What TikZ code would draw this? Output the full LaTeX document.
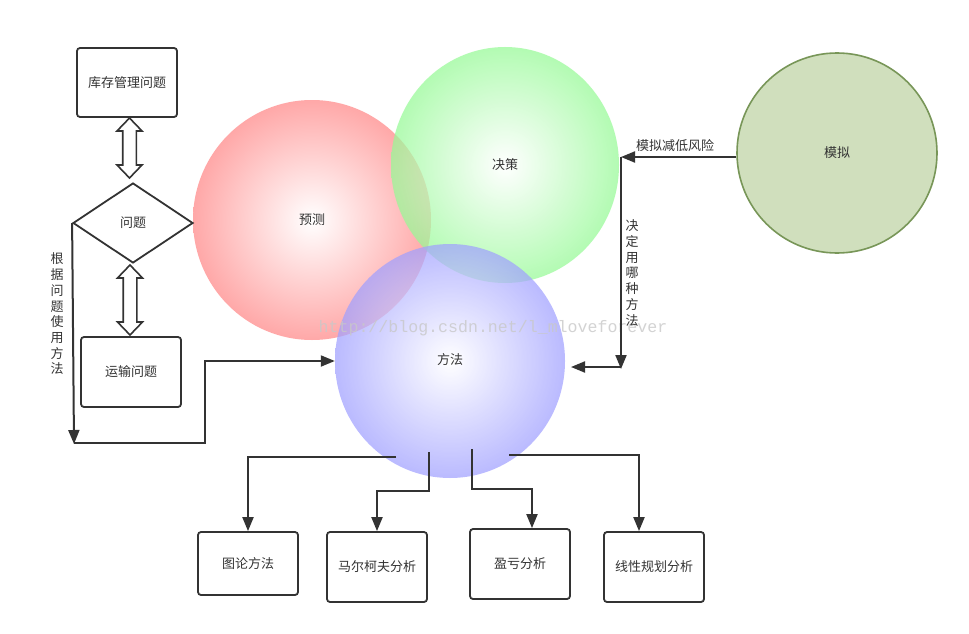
\documentclass[tikz,border=0pt]{standalone}
\usepackage{fontspec}
\setmainfont{Noto Sans CJK SC}
\newfontfamily\wmfont{Liberation Mono}
\usetikzlibrary{arrows.meta,shapes.geometric,calc}
\definecolor{txt}{HTML}{333333}
\definecolor{redc}{RGB}{255,168,168}
\definecolor{greenc}{RGB}{150,250,150}
\definecolor{bluec}{RGB}{160,160,255}
\definecolor{monifill}{RGB}{208,223,189}
\definecolor{monidraw}{RGB}{120,150,88}
\definecolor{wm}{RGB}{200,200,200}
\newcommand\dblarrow[3]{%
  \draw[line width=1.6pt, draw=txt, fill=white]
    (#1-6.8,#2+13) -- (#1-12.5,#2+13) -- (#1,#2) -- (#1+12.5,#2+13) -- (#1+6.8,#2+13)
    -- (#1+6.8,#3-13) -- (#1+12.5,#3-13) -- (#1,#3) -- (#1-12.5,#3-13) -- (#1-6.8,#3-13) -- cycle;}
\begin{document}
\begin{tikzpicture}[x=1pt,y=-1pt,
  every node/.style={text=txt, font=\fontsize{13}{15.7}\selectfont},
  box/.style={draw=txt, line width=1.8pt, rounded corners=3pt, minimum width=100pt,
              minimum height=70pt, inner sep=0pt, fill=white},
  conn/.style={draw=txt, line width=2pt},
  tip/.style={-{Triangle[length=14pt,width=11pt]}},
  blob/.style={ellipse, inner sep=0pt, shade, inner color=white}]
\useasboundingbox[fill=white] (0,0) rectangle (969,634);

% circles
\node[blob, outer color=redc, minimum width=238pt, minimum height=240pt] (yuce) at (312,220) {预测};
\node[blob, outer color=greenc, fill opacity=0.72, text opacity=1, minimum width=228pt, minimum height=236pt] (juece) at (505,165) {决策};
\node[blob, outer color=bluec, fill opacity=0.72, text opacity=1, minimum width=230pt, minimum height=234pt] (fangfa) at (450,361) {};
\node at (450,360) {方法};

% watermark
\node[text=wm, text opacity=0.8, font=\wmfont\fontsize{16.6}{18}\selectfont, inner sep=0pt] (wmark) at (493,328) {http://blog.csdn.net/l\_mloveforever};

% left column
\node[box, minimum height=69pt] (kucun) at (127,82.5) {库存管理问题};
\node[diamond, draw=txt, line width=1.8pt, fill=white, minimum width=120pt, minimum height=80pt, inner sep=0pt, aspect=1.5] (wenti) at (133,223) {问题};
\node[box] (yunshu) at (131,372) {运输问题};
\dblarrow{129.5}{118}{178}
\dblarrow{130}{265}{335}

\coordinate (lb) at (74,444);
\draw[conn, tip] (wenti.west) -- (lb);
\draw[conn, tip] (74,443) -| (205,361) -- (fangfa.west);
\node[align=center, text width=14pt, inner sep=0pt] (lab1) at (57,314) {根\\据\\问\\题\\使\\用\\方\\法};

% right side
\node[ellipse, draw=monidraw, line width=1.6pt, fill=monifill, minimum width=200pt, minimum height=200pt, inner sep=0pt] (moni) at (837,153) {模拟};
\coordinate (rc) at (621,157);
\coordinate (rb) at (621,369);
\coordinate (rl) at (571,367);
\draw[conn, tip] ($(moni.west)+(0,4)$) -- (rc);
\node (lab2) at (675,146) {模拟减低风险};
\draw[conn, tip] (rc) -- (rb);
\draw[conn, tip] (621,367) -- (rl);
\node[align=center, text width=14pt, inner sep=0pt] (lab3) at (632,273) {决\\定\\用\\哪\\种\\方\\法};

% bottom boxes
\node[box, minimum height=63pt] (tulun) at (248,563.5) {图论方法};
\node[box] (maer) at (377,567) {马尔柯夫分析};
\node[box] (yingkui) at (520,564) {盈亏分析};
\node[box] (xianxing) at (654,567) {线性规划分析};

\coordinate (s1) at (396,457);
\coordinate (s2) at (429,452);
\coordinate (s3) at (472,449);
\coordinate (s4) at (509,455);
\draw[conn, tip] (s1) -| (tulun.north);
\draw[conn, tip] (s2) -- (429,491) -| (maer.north);
\draw[conn, tip] (s3) -- (472,489) -| ($(yingkui.north)+(12,0)$);
\draw[conn, tip] (s4) -| ($(xianxing.north)+(-15,0)$);
\end{tikzpicture}
\end{document}
